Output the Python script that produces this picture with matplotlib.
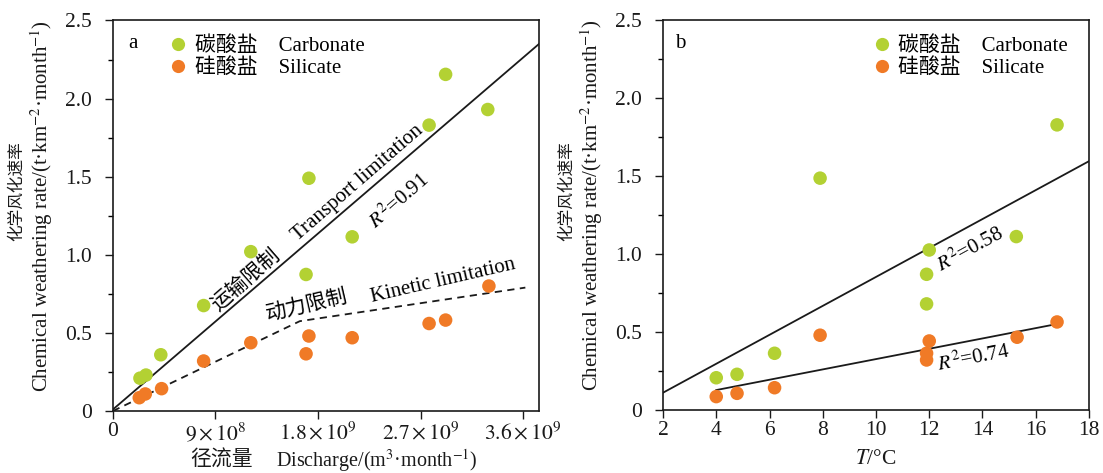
import numpy as np
import matplotlib
matplotlib.use("Agg")
import matplotlib.pyplot as plt
from matplotlib.ticker import MultipleLocator, FuncFormatter
from matplotlib.lines import Line2D

plt.rcParams['font.family'] = ['Liberation Serif', 'Noto Sans CJK SC']
plt.rcParams['mathtext.fontset'] = 'stix'
plt.rcParams['axes.unicode_minus'] = False

# ---------------- data: panel a (discharge) ----------------
carb_q = [2.37e8, 2.9e8, 4.2e8, 7.96e8, 1.21e9, 1.695e9, 1.72e9, 2.10e9, 2.775e9, 2.92e9, 3.29e9]
carb_rate_a = [0.21, 0.23, 0.36, 0.675, 1.02, 0.874, 1.49, 1.115, 1.83, 2.155, 1.93]
sil_q = [2.31e8, 2.84e8, 4.27e8, 7.96e8, 1.21e9, 1.695e9, 1.72e9, 2.10e9, 2.775e9, 2.92e9, 3.30e9]
sil_rate_a = [0.085, 0.109, 0.143, 0.32, 0.437, 0.366, 0.48, 0.469, 0.56, 0.582, 0.80]

transport_x = [0.0, 3.74e9]
transport_y = [0.01, 2.35]
kinetic_x = [0.0, 1.64e9, 3.62e9]
kinetic_y = [0.0, 0.575, 0.79]

q_ticks = [0, 9e8, 1.8e9, 2.7e9, 3.6e9]
q_ticklabels = ['0', r'$9\times10^{8}$', r'$1.8\times10^{9}$', r'$2.7\times10^{9}$', r'$3.6\times10^{9}$']

# ---------------- data: panel b (temperature) ----------------
carb_t = [4.0, 4.78, 6.19, 7.9, 11.9, 11.9, 12.0, 15.27, 16.8]
carb_rate_b = [0.207, 0.229, 0.364, 1.488, 0.681, 0.871, 1.027, 1.113, 1.83]
sil_t = [4.0, 4.78, 6.19, 7.9, 12.0, 11.9, 11.9, 15.3, 16.8]
sil_rate_b = [0.086, 0.107, 0.143, 0.48, 0.443, 0.364, 0.321, 0.467, 0.565]

carb_fit_x = [2.0, 18.0]
carb_fit_y = [0.111, 1.597]
sil_fit_x = [4.0, 16.8]
sil_fit_y = [0.128, 0.552]

GREEN = '#b3d133'
ORANGE = '#f07a26'
TXT = '#1a1a1a'

fig = plt.figure(figsize=(11.03, 4.73), dpi=100)
ax1 = fig.add_axes([0.1024, 0.1311, 0.3863, 0.8256])
ax2 = fig.add_axes([0.6011, 0.1332, 0.3862, 0.8235])

MS = 95
TICKFS = 15.5


def yfmt(v, pos):
    return '0' if abs(v) < 1e-9 else f'{v:.1f}'


for ax in (ax1, ax2):
    ax.set_ylim(0, 2.5)
    ax.yaxis.set_major_locator(MultipleLocator(0.5))
    ax.yaxis.set_minor_locator(MultipleLocator(0.25))
    ax.yaxis.set_major_formatter(FuncFormatter(yfmt))
    ax.tick_params(axis='both', which='major', direction='out', length=6, width=1.0,
                   labelsize=TICKFS, colors=TXT)
    ax.tick_params(axis='x', which='major', pad=2)
    ax.tick_params(axis='y', which='major', pad=9)
    ax.tick_params(axis='y', which='minor', direction='out', length=3.5, width=1.0)
    for s in ax.spines.values():
        s.set_linewidth(1.2)
        s.set_color(TXT)

# ---------- panel a ----------
ax1.set_xlim(0, 3.74e9)
ax1.set_xticks(q_ticks)
ax1.set_xticklabels(q_ticklabels)
ax1.scatter(carb_q, carb_rate_a, s=MS, color=GREEN, edgecolors='none', zorder=3)
ax1.scatter(sil_q, sil_rate_a, s=MS, color=ORANGE, edgecolors='none', zorder=3)
ax1.plot(transport_x, transport_y, color=TXT, lw=1.3, zorder=2)
ax1.plot(kinetic_x, kinetic_y, color=TXT, lw=1.3, ls=(0, (4, 3)), zorder=2)

ax1.text(0.047, 0.942, 'a', transform=ax1.transAxes, fontsize=15, va='center', ha='center')
ax1.text(2.15e9, 1.46, 'Transport limitation', fontsize=15, rotation=41,
         ha='center', va='center', rotation_mode='anchor')
ax1.text(2.51e9, 1.34, r'$R^2$=0.91', fontsize=15, rotation=41,
         ha='center', va='center', rotation_mode='anchor')
ax1.text(1.166e9, 0.838, '运输限制', fontsize=15, rotation=41,
         ha='center', va='center', rotation_mode='anchor')
ax1.text(1.70e9, 0.673, '动力限制', fontsize=15, rotation=13,
         ha='center', va='center', rotation_mode='anchor')
ax1.text(2.90e9, 0.832, 'Kinetic limitation', fontsize=15, rotation=13,
         ha='center', va='center', rotation_mode='anchor')

# x label (Chinese part and English part)
ax1.text(0.254, -0.128, '径流量', transform=ax1.transAxes, fontsize=15,
         ha='center', va='center', color=TXT)
ax1.text(0.383, -0.126, 'Discharge/(m$^{3}$·month$^{-1}$)', transform=ax1.transAxes,
         fontsize=14.5, ha='left', va='center', color=TXT)

# ---------- panel b ----------
ax2.set_xlim(2, 18)
ax2.xaxis.set_major_locator(MultipleLocator(2))
ax2.scatter(carb_t, carb_rate_b, s=MS, color=GREEN, edgecolors='none', zorder=3)
ax2.scatter(sil_t, sil_rate_b, s=MS, color=ORANGE, edgecolors='none', zorder=3)
ax2.plot(carb_fit_x, carb_fit_y, color=TXT, lw=1.3, zorder=2)
ax2.plot(sil_fit_x, sil_fit_y, color=TXT, lw=1.3, zorder=2)

ax2.text(0.04, 0.942, 'b', transform=ax2.transAxes, fontsize=15, va='center', ha='center')
ax2.text(13.52, 1.03, r'$R^2$=0.58', fontsize=15, rotation=28.5,
         ha='center', va='center', rotation_mode='anchor')
ax2.text(13.67, 0.334, r'$R^2$=0.74', fontsize=15, rotation=11,
         ha='center', va='center', rotation_mode='anchor')
ax2.text(0.5, -0.128, r'$T$/°C', transform=ax2.transAxes, fontsize=15.5,
         ha='center', va='center', color=TXT)

# ---------- legends & y labels ----------
for ax, lx in ((ax1, 0.085), (ax2, 0.445)):
    handles = [Line2D([], [], ls='none', marker='o', ms=9.5, color=GREEN, mec='none'),
               Line2D([], [], ls='none', marker='o', ms=9.5, color=ORANGE, mec='none')]
    ax.legend(handles, ['碳酸盐    Carbonate', '硅酸盐    Silicate'], loc='upper left',
              bbox_to_anchor=(lx, 1.008), frameon=False, fontsize=15, handletextpad=0.3,
              labelspacing=0.1, borderpad=0.4, handlelength=1.0)
    ax.text(-0.226, 0.563, '化学风化速率', transform=ax.transAxes, rotation=90,
            fontsize=12, ha='center', va='center', color=TXT)
    ax.text(-0.168, 0.525, 'Chemical weathering rate/(t·km$^{-2}$·month$^{-1}$)',
            transform=ax.transAxes, rotation=90, fontsize=15, ha='center', va='center',
            color=TXT)

fig.savefig('out.png', dpi=100)
